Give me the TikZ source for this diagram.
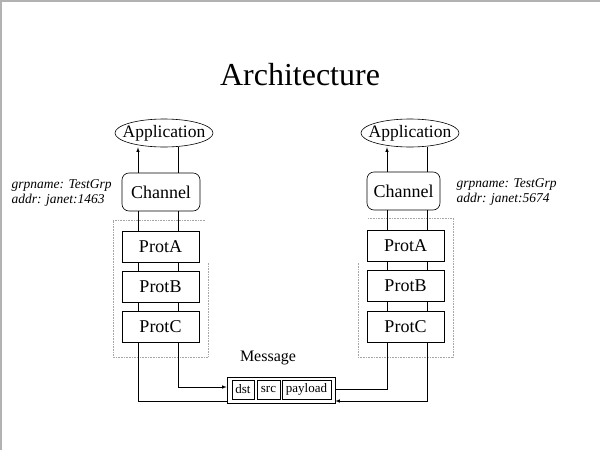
\documentclass[tikz,border=0pt]{standalone}
\usepackage{fontspec}
\setmainfont{Liberation Serif}
\usetikzlibrary{shapes.geometric}
\tikzset{
  appnode/.style={draw,ellipse,inner xsep=-14pt,inner ysep=-2pt,minimum width=98pt,minimum height=28pt,font=\fontsize{17.5}{17.5}\selectfont},
  chanbox/.style={draw,rounded corners=7pt,minimum height=38pt,font=\fontsize{18}{18}\selectfont},
  protbox/.style={draw,fill=white,minimum width=77pt,minimum height=31pt,font=\fontsize{18}{18}\selectfont},
  fieldbox/.style={draw,inner sep=1pt,minimum height=19pt,font=\fontsize{13}{13}\selectfont},
  addrtext/.style={align=left,font=\fontsize{13.5}{15}\selectfont\itshape},
  dotbox/.style={densely dotted,gray!70}
}
\begin{document}
\begin{tikzpicture}[x=1pt,y=-1pt,line width=0.6pt]
        \useasboundingbox (0,0) rectangle (600,450);
        \draw[gray!60,line width=1.2pt] (1,450) -- (1,1) -- (600,1);
        \draw (300,75) node[font=\fontsize{32}{32}\selectfont] (title) {Architecture};
        % left member
        \draw[dotbox] (205,220) -- (113,220) -- (113,357) -- (208,357) -- (208,262);
        \node[appnode] (appL) at (164,133) {Application};
        \node[chanbox,minimum width=78pt] (chanL) at (161,192) {Channel};
        \node[protbox] (pAL) at (160.5,246.5) {ProtA};
        \node[protbox] (pBL) at (160.5,287) {ProtB};
        \node[protbox] (pCL) at (160.5,327) {ProtC};
        \node[addrtext,anchor=west] (infoL) at (8,193) {grpname: TestGrp\\addr: janet:1463};
        % right member
        \draw[dotbox] (368,218) -- (453,218) -- (453,357) -- (358,357) -- (358,262);
        \node[appnode] (appR) at (410,133) {Application};
        \node[chanbox,minimum width=73pt] (chanR) at (403.5,191) {Channel};
        \node[protbox] (pAR) at (405.5,245.5) {ProtA};
        \node[protbox] (pBR) at (405.5,286) {ProtB};
        \node[protbox] (pCR) at (405.5,327) {ProtC};
        \node[addrtext,anchor=west] (infoR) at (453,192) {grpname: TestGrp\\addr: janet:5674};
        % message
        \node[font=\fontsize{16}{16}\selectfont] (msglabel) at (268,358) {Message};
        \node[draw,minimum width=108pt,minimum height=26pt] (msg) at (281,390) {};
        \node[fieldbox,minimum width=22pt] (dst) at (243,389.5) {dst};
        \node[fieldbox,minimum width=23pt] (src) at (268.5,389.5) {src};
        \node[fieldbox,minimum width=49pt] (payload) at (306.5,389.5) {payload};
        % connectors
        \foreach \a/\b in {chanL/pAL,pAL/pBL,pBL/pCL} {
          \draw ([xshift=-22.5pt]\a.south) -- ([xshift=-22.5pt]\a.south |- \b.north);
          \draw ([xshift=17.5pt]\a.south) -- ([xshift=17.5pt]\a.south |- \b.north);
        }
        \foreach \a/\b in {chanR/pAR,pAR/pBR,pBR/pCR} {
          \draw ([xshift=-18.5pt]\b.north |- \a.south) -- ([xshift=-18.5pt]\b.north);
          \draw ([xshift=21.5pt]\b.north |- \a.south) -- ([xshift=21.5pt]\b.north);
        }
        \draw[-latex] ([xshift=-23pt]chanL.north) -- ([xshift=-23pt]chanL.north |- appL.south);
        \draw ([xshift=14pt]appL.south) -- ([xshift=17pt]chanL.north);
        \draw[-latex] ([xshift=-16.5pt]chanR.north) -- ([xshift=-16.5pt]chanR.north |- appR.south);
        \draw ([xshift=17pt]appR.south) -- ([xshift=23.5pt]chanR.north);
        \draw[-latex] ([xshift=17.5pt]pCL.south) |- ([yshift=3pt]msg.west);
        \draw ([xshift=-22.5pt]pCL.south) |- ([yshift=-11pt]msg.west);
        \draw ([xshift=-18.5pt]pCR.south) |- ([yshift=1pt]msg.east);
        \draw[-latex] ([xshift=21.5pt]pCR.south) |- ([yshift=-11pt]msg.east);
\end{tikzpicture}
\end{document}
